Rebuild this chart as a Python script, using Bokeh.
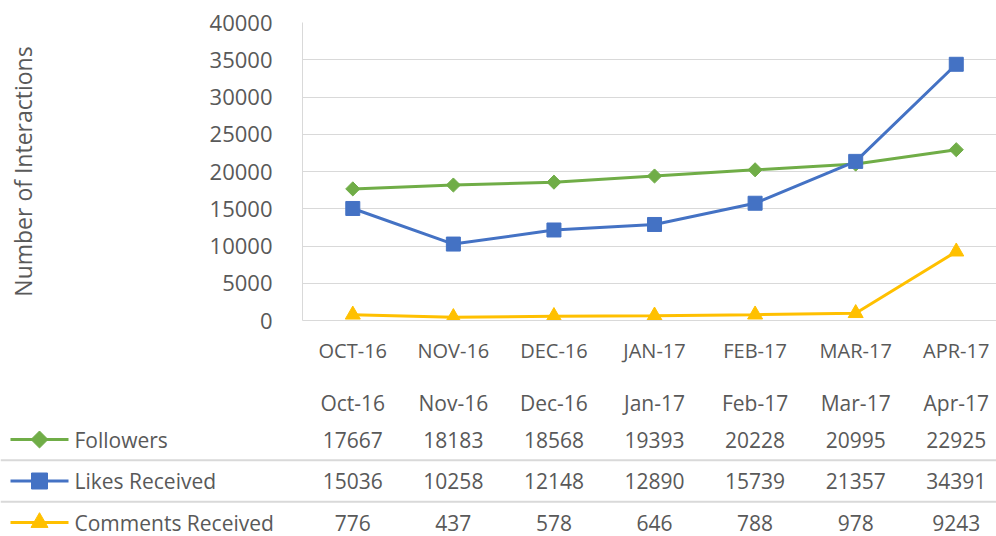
import numpy as np
from bokeh.plotting import figure
from bokeh.models import Range1d, FixedTicker, Span
from bokeh.embed import file_html
from bokeh.resources import INLINE
from bokeh.core.properties import value

# ---------------- data ----------------
months = ["Oct-16", "Nov-16", "Dec-16", "Jan-17", "Feb-17", "Mar-17", "Apr-17"]
axis_labels = ["OCT-16", "NOV-16", "DEC-16", "JAN-17", "FEB-17", "MAR-17", "APR-17"]
series_names = ["Followers", "Likes Received", "Comments Received"]
followers = [17667, 18183, 18568, 19393, 20228, 20995, 22925]
likes = [15036, 10258, 12148, 12890, 15739, 21357, 34391]
comments = [776, 437, 578, 646, 788, 978, 9243]
y_ticks = [0, 5000, 10000, 15000, 20000, 25000, 30000, 35000, 40000]
y_title = "Number of Interactions"

# ---------------- style ----------------
FONT = "Open Sans"
TEXT = "#595959"
GRID = "#D9D9D9"
colors = ["#70AD47", "#4472C4", "#FFC000"]
markers = ["square", "square", "triangle"]
angles = [np.pi / 4, 0, 0]
msizes = [10, 14, 15]

W = 996
CHART_H = 380
TABLE_H = 156
FRAME_LEFT = 302
X_START, X_END = -0.5, 6.4
PPU = (W - FRAME_LEFT) / (X_END - X_START)

series = [followers, likes, comments]
xs = list(range(len(months)))

p = figure(width=W, height=CHART_H, x_range=Range1d(X_START, X_END),
           y_range=Range1d(0, 40000), output_backend="svg", toolbar_location=None,
           min_border_left=FRAME_LEFT, min_border_right=0, min_border_top=22,
           min_border_bottom=60)
p.outline_line_color = None
p.xgrid.grid_line_color = None
p.ygrid.grid_line_color = GRID
p.ygrid.grid_line_width = 1
p.yaxis.ticker = FixedTicker(ticks=y_ticks)
p.xaxis.ticker = FixedTicker(ticks=xs)
p.xaxis.major_label_overrides = {i: lab for i, lab in enumerate(axis_labels)}
for ax in (p.xaxis[0], p.yaxis[0]):
    ax.axis_line_color = GRID
    ax.axis_line_width = 1
    ax.major_tick_line_color = None
    ax.minor_tick_line_color = None
    ax.major_label_text_color = TEXT
    ax.major_label_text_font = FONT
p.yaxis.major_label_text_font_size = "22px"
p.yaxis.major_label_standoff = 24
p.xaxis.major_label_text_font_size = "20px"
p.xaxis.major_label_standoff = 10
p.yaxis.axis_label = y_title
p.yaxis.axis_label_text_font = FONT
p.yaxis.axis_label_text_font_size = "23px"
p.yaxis.axis_label_text_font_style = "normal"
p.yaxis.axis_label_text_color = TEXT
p.yaxis.axis_label_standoff = 168

for vals, c, m, a, s in zip(series, colors, markers, angles, msizes):
    p.line(xs, vals, line_color=c, line_width=3)
    p.scatter(xs, vals, marker=m, size=s, angle=a, fill_color=c, line_color=c)

# ---------------- data table ----------------
ROW_PX = 41.5
FIRST_ROW_PX = 59
T_START = X_START - FRAME_LEFT / PPU
t = figure(width=W, height=TABLE_H, x_range=Range1d(T_START, X_END),
           y_range=Range1d(1 + (TABLE_H - FIRST_ROW_PX) / ROW_PX, 1 - FIRST_ROW_PX / ROW_PX),
           output_backend="svg", toolbar_location=None, min_border=0,
           x_axis_location=None, y_axis_location=None)
t.outline_line_color = None
t.grid.grid_line_color = None

HEADER_ROW = 1 + (22 - FIRST_ROW_PX) / ROW_PX
TFS = "21px"
t.text(xs, [HEADER_ROW] * len(xs), text=months, text_font=value(FONT),
       text_font_size=TFS, text_align="center", text_baseline="middle",
       text_color=TEXT)
for r, (name, vals, c, m, a, s) in enumerate(zip(series_names, series, colors,
                                                   markers, angles, msizes), start=1):
    t.text(xs, [r] * len(xs), text=[str(v) for v in vals], text_font=value(FONT),
           text_font_size=TFS, text_align="center", text_baseline="middle",
           text_color=TEXT)
    x0 = T_START + 10 / PPU
    x1 = T_START + 68 / PPU
    t.segment(x0, r, x1, r, line_color=c, line_width=3)
    t.scatter([(x0 + x1) / 2], [r], marker=m, size=s + 2, angle=a, fill_color=c,
              line_color=c)
    t.text([T_START + 74 / PPU], [r], text=[name], text_font=value(FONT),
           text_font_size=TFS, text_align="left", text_baseline="middle",
           text_color=TEXT)

for loc in (1.5, 2.5):
    t.add_layout(Span(location=loc, dimension="width", line_color=GRID, line_width=2))

open("out.html", "w").write(file_html([p, t], INLINE))
